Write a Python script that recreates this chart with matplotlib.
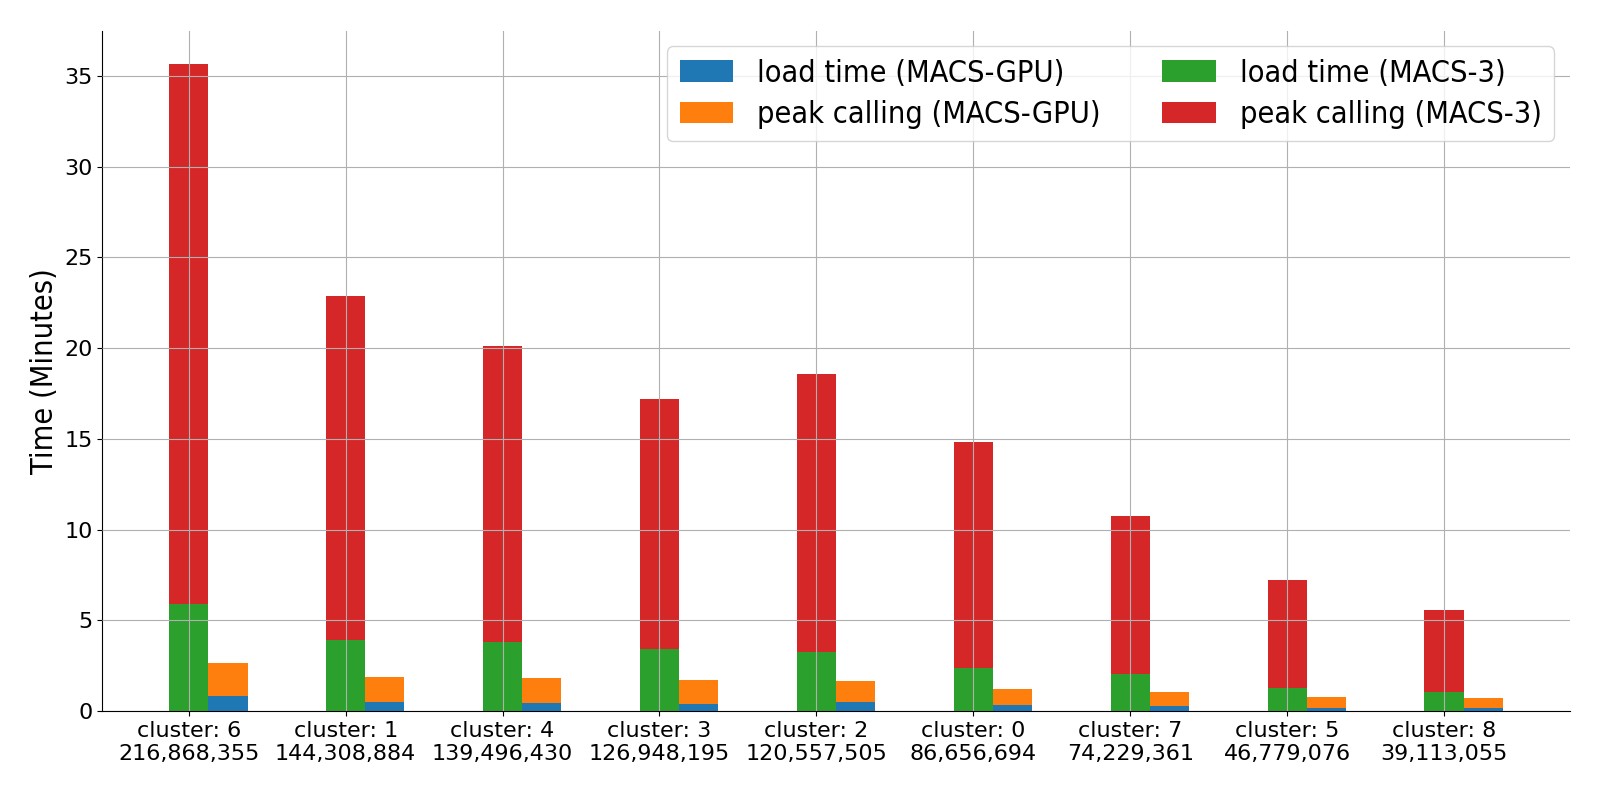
import numpy as np
import matplotlib
matplotlib.use('Agg')
import matplotlib.pyplot as plt

clusters = ['6', '1', '4', '3', '2', '0', '7', '5', '8']
n_reads = ['216,868,355', '144,308,884', '139,496,430', '126,948,195', '120,557,505',
           '86,656,694', '74,229,361', '46,779,076', '39,113,055']

# minutes
load_gpu = [0.83, 0.50, 0.44, 0.40, 0.50, 0.33, 0.29, 0.17, 0.17]
total_gpu = [2.65, 1.87, 1.82, 1.71, 1.65, 1.21, 1.05, 0.77, 0.72]
load_macs3 = [5.92, 3.93, 3.82, 3.42, 3.27, 2.39, 2.04, 1.28, 1.06]
total_macs3 = [35.67, 22.88, 20.13, 17.22, 18.56, 14.81, 10.77, 7.22, 5.57]

peak_gpu = [t - l for t, l in zip(total_gpu, load_gpu)]
peak_macs3 = [t - l for t, l in zip(total_macs3, load_macs3)]

labels = [f'cluster: {c}\n{r}' for c, r in zip(clusters, n_reads)]
x = np.arange(len(clusters))
w = 0.25

fig = plt.figure(figsize=(16, 8), dpi=100)
ax = fig.add_axes([0.064, 0.111, 0.917, 0.85])

ax.bar(x + w, load_gpu, w, color='#1f77b4', label='load time (MACS-GPU)')
ax.bar(x + w, peak_gpu, w, bottom=load_gpu, color='#ff7f0e', label='peak calling (MACS-GPU)')
ax.bar(x, load_macs3, w, color='#2ca02c', label='load time (MACS-3)')
ax.bar(x, peak_macs3, w, bottom=load_macs3, color='#d62728', label='peak calling (MACS-3)')

ax.set_xticks(x)
ax.set_xticklabels(labels, fontsize=16)
ax.tick_params(axis='y', labelsize=16)
ax.set_ylabel('Time (Minutes)', fontsize=22, fontstretch='condensed')
ax.grid(True, color='#b0b0b0')
ax.set_axisbelow(False)
ax.spines['top'].set_visible(False)
ax.spines['right'].set_visible(False)

ax.legend(ncol=2, loc='upper right', prop={'size': 22, 'stretch': 'condensed'},
          handlelength=1.75, labelspacing=0.4)

plt.savefig('out.png')
